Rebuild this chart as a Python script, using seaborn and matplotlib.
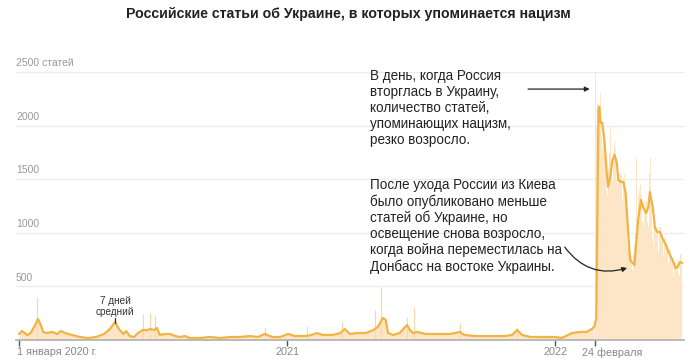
import matplotlib
matplotlib.use("Agg")
import matplotlib.pyplot as plt
import matplotlib.dates as mdates
import seaborn as sns
import pandas as pd

# ---------------- data ----------------
avg_dates = [
    "2020-01-01", "2020-01-05", "2020-01-12", "2020-01-17", "2020-01-23", "2020-01-27", "2020-01-30",
    "2020-02-03", "2020-02-08", "2020-02-15", "2020-02-22", "2020-02-27", "2020-03-04", "2020-03-13",
    "2020-03-24", "2020-04-04", "2020-04-15", "2020-04-26", "2020-05-04", "2020-05-11", "2020-05-16",
    "2020-05-22", "2020-05-26", "2020-05-31", "2020-06-06", "2020-06-11", "2020-06-18", "2020-06-24",
    "2020-06-28", "2020-07-03", "2020-07-07", "2020-07-11", "2020-07-18", "2020-07-25", "2020-08-01",
    "2020-08-07", "2020-08-14", "2020-08-21", "2020-09-04", "2020-09-17", "2020-10-01", "2020-10-15",
    "2020-10-28", "2020-11-11", "2020-11-22", "2020-12-01", "2020-12-11", "2020-12-22", "2021-01-02",
    "2021-01-11", "2021-01-25", "2021-02-03", "2021-02-10", "2021-02-18", "2021-03-04", "2021-03-14",
    "2021-03-20", "2021-03-27", "2021-04-06", "2021-04-18", "2021-04-28", "2021-05-04", "2021-05-11",
    "2021-05-15", "2021-05-18", "2021-05-25", "2021-06-03", "2021-06-13", "2021-06-17", "2021-06-21",
    "2021-06-27", "2021-07-08", "2021-07-28", "2021-08-11", "2021-08-24", "2021-08-30", "2021-09-14",
    "2021-10-04", "2021-10-25", "2021-11-03", "2021-11-10", "2021-11-17", "2021-11-28", "2021-12-18",
    "2022-01-01", "2022-01-10", "2022-01-24", "2022-02-04", "2022-02-13", "2022-02-20", "2022-02-23",
    "2022-02-26", "2022-03-01", "2022-03-02", "2022-03-04", "2022-03-06", "2022-03-09", "2022-03-12",
    "2022-03-14", "2022-03-17", "2022-03-20", "2022-03-23", "2022-03-26", "2022-03-28", "2022-04-01",
    "2022-04-04", "2022-04-07", "2022-04-10", "2022-04-13", "2022-04-15", "2022-04-19", "2022-04-21",
    "2022-04-24", "2022-04-28", "2022-05-01", "2022-05-05", "2022-05-08", "2022-05-10", "2022-05-14",
    "2022-05-17", "2022-05-20", "2022-05-24", "2022-05-27", "2022-06-01", "2022-06-05", "2022-06-10",
    "2022-06-14", "2022-06-17", "2022-06-20", "2022-06-23",
]
avg_values = [
    56, 84, 47, 65, 140, 196, 150,
    75, 65, 75, 56, 84, 65, 47,
    28, 19, 28, 56, 103, 168, 103,
    56, 84, 37, 28, 65, 93, 93,
    103, 93, 112, 47, 56, 56, 37,
    28, 37, 19, 19, 28, 19, 28,
    28, 37, 28, 56, 28, 28, 56,
    37, 37, 47, 65, 47, 47, 65,
    103, 56, 65, 65, 93, 121, 205,
    187, 65, 47, 65, 140, 93, 65,
    75, 56, 56, 56, 75, 47, 37,
    37, 37, 47, 93, 47, 28, 28,
    28, 19, 65, 75, 75, 103, 121,
    200, 2150, 2175, 2025, 2030, 1866, 1586,
    1428, 1521, 1680, 1726, 1651, 1493, 1474,
    1474, 1372, 1054, 746, 730, 700, 868,
    1120, 1306, 1231, 1185, 1241, 1381, 1241,
    1045, 1008, 1008, 951, 886, 812, 746,
    672, 680, 728, 718,
]

# notable daily spikes before the invasion
spike_dates = ["2020-01-25", "2020-06-18", "2020-06-27", "2020-07-04", "2020-12-01",
               "2021-01-27", "2021-03-17", "2021-05-01", "2021-05-09", "2021-06-13",
               "2021-06-22", "2021-08-24", "2021-11-10"]
spike_values = [400, 240, 250, 230, 120, 130, 170, 280, 490, 215, 310, 160, 125]

# daily article counts after the invasion (from 24 Feb 2022)
daily_start = "2022-02-24"
daily_values = [
    3300, 2500, 2000, 1900, 2200, 2200, 2100,
    2600, 2300, 1900, 1800, 2000, 1950, 1900,
    1700, 1650, 1400, 1350, 1550, 1600, 1750,
    2000, 1800, 1550, 1500, 1750, 1800, 1850,
    1800, 1750, 1500, 1450, 1550, 1600, 1550,
    1550, 1550, 1350, 1300, 1500, 1550, 1450,
    1350, 1200, 950, 850, 850, 800, 780,
    800, 780, 650, 620, 800, 900, 1000,
    1100, 1700, 1050, 1000, 1350, 1400, 1450,
    1400, 1350, 1100, 1050, 1250, 1300, 1250,
    1300, 1350, 1100, 1050, 1500, 1550, 1700,
    1300, 1200, 950, 900, 1100, 1050, 1050,
    1050, 1050, 850, 820, 1050, 1050, 1050,
    1000, 980, 800, 780, 950, 950, 920,
    900, 880, 720, 700, 850, 840, 820,
    780, 760, 600, 580, 740, 720, 700,
    760, 760, 620, 600, 780, 800, 790,
    760,
]

ytick_values = [500, 1000, 1500, 2000, 2500]
ytick_labels = ["500", "1000", "1500", "2000", "2500 статей"]
xtick_dates = ["2020-01-01", "2021-01-01", "2022-01-01", "2022-02-24"]
xtick_labels = ["1 января 2020 г.", "2021", "2022", "24 февраля"]

title = "Российские статьи об Украине, в которых упоминается нацизм"
note1 = "В день, когда Россия\nвторглась в Украину,\nколичество статей,\nупоминающих нацизм,\nрезко возросло."
note2 = ("После ухода России из Киева\nбыло опубликовано меньше\nстатей об Украине, но\n"
         "освещение снова возросло,\nкогда война переместилась на\nДонбасс на востоке Украины.")

# ---------------- styling ----------------
sns.set_theme(style="white")
plt.rcParams["font.family"] = ["Liberation Sans", "DejaVu Sans"]

LINE = "#F0B445"
FILL = "#FDE6C8"
SPIKE = "#F8D8AA"

avg_df = pd.DataFrame({"date": pd.to_datetime(avg_dates), "value": avg_values})
daily_df = pd.DataFrame({
    "date": pd.date_range(daily_start, periods=len(daily_values), freq="D"),
    "value": daily_values,
})
spike_df = pd.DataFrame({"date": pd.to_datetime(spike_dates), "value": spike_values})

fig = plt.figure(figsize=(7.0, 3.61), dpi=100)
fig.patch.set_facecolor("white")
ax = fig.add_axes([16 / 700, 21 / 361, (684 - 16) / 700, 340 / 361])
ax.set_facecolor("none")

x0 = mdates.date2num(pd.Timestamp("2020-01-01"))
ax.set_xlim(x0 - 4.1, x0 + 906.6)
ax.set_ylim(0, 3172)

# gridlines
for v in ytick_values:
    ax.axhline(v, color="#ececec", lw=1, zorder=0)

# pre-invasion fill under the average
pre = avg_df[avg_df["date"] <= pd.Timestamp("2022-02-23")]
ax.fill_between(pre["date"], 0, pre["value"], color=FILL, lw=0, zorder=1)

# spikes
ax.vlines(spike_df["date"], 0, spike_df["value"], color=SPIKE, lw=0.9, zorder=1)

# daily counts after invasion
ax.fill_between(daily_df["date"], 0, daily_df["value"], step="mid", color=FILL, lw=0, zorder=1)

# 7-day average line
sns.lineplot(data=avg_df, x="date", y="value", ax=ax, color=LINE, lw=1.6, zorder=3)

ax.set_xlabel("")
ax.set_ylabel("")
ax.set_yticks([])
for s in ["top", "right", "left"]:
    ax.spines[s].set_visible(False)
ax.spines["bottom"].set_color("#b0b0b0")
ax.spines["bottom"].set_linewidth(1.2)
ax.spines["bottom"].set_zorder(4)

ax.set_xticks(pd.to_datetime(xtick_dates))
ax.set_xticklabels([])
ax.tick_params(axis="x", length=4, width=1, color="#555555", direction="out", bottom=True)

# y labels
for v, lab in zip(ytick_values, ytick_labels):
    ax.text(0.0, v + 35, lab, transform=ax.get_yaxis_transform(), ha="left", va="bottom",
            fontsize=7.5, color="#999999")

# x labels
xt = [mdates.date2num(pd.Timestamp(d)) for d in xtick_dates]
xtr = ax.get_xaxis_transform()
ax.text(xt[0] - 3, -0.022, xtick_labels[0], transform=xtr, ha="left", va="top",
        fontsize=7.8, color="#888888")
ax.text(xt[1], -0.022, xtick_labels[1], transform=xtr, ha="center", va="top",
        fontsize=7.8, color="#888888")
ax.text(xt[2], -0.022, xtick_labels[2], transform=xtr, ha="center", va="top",
        fontsize=7.8, color="#888888")
ax.text(xt[3] - 18, -0.022, xtick_labels[3], transform=xtr, ha="left", va="top",
        fontsize=7.8, color="#888888")

# "7 дней средний"
lab_date = mdates.date2num(pd.Timestamp("2020-05-11"))
ax.text(lab_date, 215, "7 дней\nсредний", ha="center", va="bottom", fontsize=7.2,
        color="#333333", linespacing=1.1)
ax.plot([lab_date, lab_date], [160, 205], color="#333333", lw=0.9, zorder=4)

# title
fig.text(348 / 700, 1 - 14 / 361, title, ha="center", va="center", fontsize=10.2,
         fontweight="bold", color="#222222")

# notes
fig.text(370 / 700, 1 - 69 / 361, note1, ha="left", va="top", fontsize=9.75,
         color="#222222", linespacing=1.19)
fig.text(370 / 700, 1 - 178 / 361, note2, ha="left", va="top", fontsize=9.75,
         color="#222222", linespacing=1.19)

# arrows
ax.annotate("", xy=(pd.Timestamp("2022-02-17"), 2341), xytext=(pd.Timestamp("2021-11-25"), 2341),
            arrowprops=dict(arrowstyle="-|>", color="#222222", lw=0.9, mutation_scale=7,
                            shrinkA=0, shrinkB=0), zorder=5)
ax.annotate("", xy=(pd.Timestamp("2022-04-09"), 672), xytext=(pd.Timestamp("2022-01-14"), 867),
            arrowprops=dict(arrowstyle="-|>", color="#222222", lw=0.9, mutation_scale=7,
                            shrinkA=0, shrinkB=0, connectionstyle="arc3,rad=0.35"), zorder=5)

fig.savefig("out.png", dpi=100, facecolor="white")
